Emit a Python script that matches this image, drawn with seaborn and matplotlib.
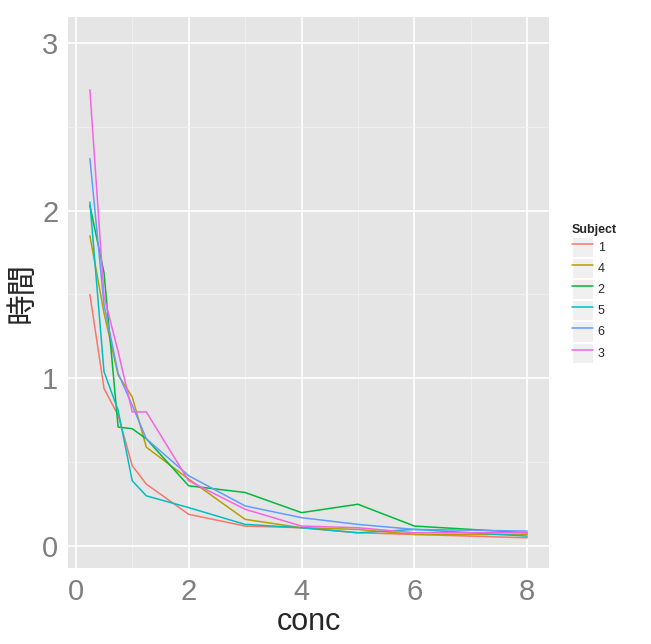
import pandas as pd
import numpy as np
import matplotlib
matplotlib.use('Agg')
import matplotlib.pyplot as plt
import seaborn as sns
from matplotlib.ticker import MultipleLocator
from matplotlib.patches import Rectangle
from matplotlib.legend_handler import HandlerTuple

# datos (Indometh)
tiempos = [0.25, 0.5, 0.75, 1, 1.25, 2, 3, 4, 5, 6, 8]
subj_1 = [1.50, 0.94, 0.78, 0.48, 0.37, 0.19, 0.12, 0.11, 0.08, 0.07, 0.05]
subj_2 = [2.03, 1.63, 0.71, 0.70, 0.64, 0.36, 0.32, 0.20, 0.25, 0.12, 0.08]
subj_3 = [2.72, 1.49, 1.16, 0.80, 0.80, 0.39, 0.22, 0.12, 0.11, 0.08, 0.08]
subj_4 = [1.85, 1.39, 1.02, 0.89, 0.59, 0.40, 0.16, 0.11, 0.10, 0.07, 0.07]
subj_5 = [2.05, 1.04, 0.81, 0.39, 0.30, 0.23, 0.13, 0.11, 0.08, 0.10, 0.06]
subj_6 = [2.31, 1.44, 1.03, 0.84, 0.64, 0.42, 0.24, 0.17, 0.13, 0.10, 0.09]

orden = ['1', '4', '2', '5', '6', '3']
colores = ['#F8766D', '#B79F00', '#00BA38', '#00BFC4', '#619CFF', '#F564E3']

series = {'1': subj_1, '2': subj_2, '3': subj_3, '4': subj_4, '5': subj_5, '6': subj_6}
filas = []
for s, vals in series.items():
    for t, v in zip(tiempos, vals):
        filas.append({'Subject': s, 'conc': t, 'time': v})
df = pd.DataFrame(filas)

sns.set_style('darkgrid', {'axes.facecolor': '#E5E5E5', 'grid.color': 'white'})
plt.rcParams['font.family'] = ['Liberation Sans', 'Noto Sans CJK JP', 'DejaVu Sans']

fig = plt.figure(figsize=(6.51, 6.44), dpi=100)
ax = fig.add_axes([0.1045, 0.118, 0.739, 0.856])

sns.lineplot(data=df, x='conc', y='time', hue='Subject', hue_order=orden,
             palette=colores, linewidth=1.1, ax=ax, legend=False)

ax.set_xlim(-0.1375, 8.3875)
ax.set_ylim(-0.13, 3.155)
ax.xaxis.set_major_locator(MultipleLocator(2))
ax.yaxis.set_major_locator(MultipleLocator(1))
ax.xaxis.set_minor_locator(MultipleLocator(1))
ax.yaxis.set_minor_locator(MultipleLocator(0.5))
ax.grid(which='major', color='white', linewidth=1.2)
ax.grid(which='minor', color='#F2F2F2', linewidth=0.5)
for sp in ax.spines.values():
    sp.set_visible(False)

ax.tick_params(axis='both', which='major', labelsize=21, labelcolor='#7F7F7F',
               length=4, width=1, color='#7F7F7F', direction='out', pad=3)
ax.tick_params(which='minor', length=0)
ax.set_xlabel('conc', fontsize=22, labelpad=1)
ax.set_ylabel('時間', fontsize=22, family=['Noto Sans CJK JP', 'DejaVu Sans'], labelpad=3)

# leyenda con cajas grises
manejadores = [(Rectangle((0, 0), 1, 1, facecolor='#F0F0F0', edgecolor='white', linewidth=0.8),
                plt.Line2D([0], [0], color=c, linewidth=1.1)) for c in colores]
leg = fig.legend(manejadores, orden, title='Subject', loc='upper left',
                 bbox_to_anchor=(0.869, 0.662), frameon=False, fontsize=9,
                 title_fontproperties={'weight': 'bold', 'size': 9},
                 handler_map={tuple: HandlerTuple(ndivide=1, pad=0)},
                 handlelength=1.7, handleheight=2.1, labelspacing=0.08,
                 handletextpad=0.35, borderpad=0, alignment='left')

plt.savefig('out.png', dpi=100)
plt.close()
